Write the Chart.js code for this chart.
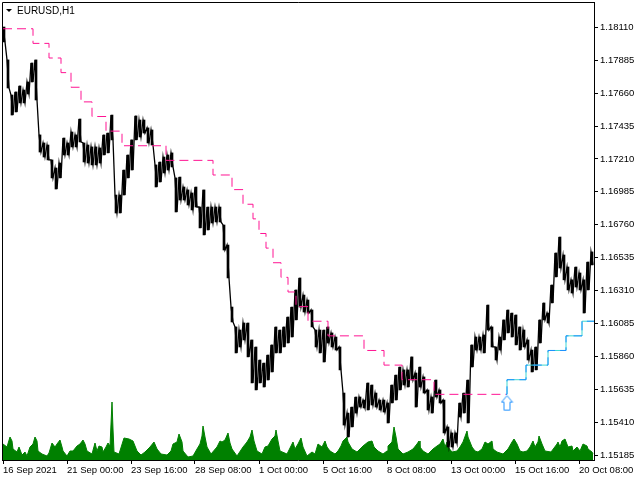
<!DOCTYPE html>
<html>
<head>
<meta charset="utf-8">
<title>EURUSD,H1</title>
<script src="https://cdn.jsdelivr.net/npm/chart.js@4.4.1/dist/chart.umd.min.js"></script>
<style>
  html, body { margin: 0; padding: 0; background: #fff; }
  #wrap { width: 640px; height: 480px; }
</style>
</head>
<body>
<div id="wrap"><canvas id="chart" width="640" height="480"></canvas></div>
<script>
// EURUSD H1 - one bar per pixel, bar 0 = 16 Sep 2021
const symbolTitle = 'EURUSD,H1';

const xTickBars = [0, 64, 128, 192, 256, 320, 384, 448, 512, 576];
const xTickLabels = ['16 Sep 2021', '21 Sep 00:00', '23 Sep 16:00', '28 Sep 08:00', '1 Oct 00:00',
  '5 Oct 16:00', '8 Oct 08:00', '13 Oct 00:00', '15 Oct 16:00', '20 Oct 08:00'];
const yTickValues = [1.18110, 1.17885, 1.17660, 1.17435, 1.17210, 1.16985, 1.16760,
  1.16535, 1.16310, 1.16085, 1.15860, 1.15635, 1.15410, 1.15185];

// high / low read every 4 bars
const sampleStep = 4;
const priceHigh = [
  1.18112, 1.17887, 1.17647, 1.17668, 1.17709, 1.17681, 1.17736, 1.17866, 1.17887, 1.17374,
  1.17319, 1.17305, 1.17203, 1.17148, 1.17182, 1.17353, 1.17319, 1.17394, 1.17374, 1.17483,
  1.17319, 1.17305, 1.17292, 1.17292, 1.17285, 1.17374, 1.17387, 1.17510, 1.16963, 1.16963,
  1.17134, 1.17237, 1.17340, 1.17504, 1.17476, 1.17476, 1.17422, 1.17408, 1.17169, 1.17189,
  1.17223, 1.17237, 1.17251, 1.17080, 1.17086, 1.17018, 1.16998, 1.16977, 1.17018, 1.16881,
  1.16998, 1.16881, 1.16881, 1.16881, 1.16881, 1.16758, 1.16621, 1.16197, 1.16061, 1.16040,
  1.16088, 1.16088, 1.15972, 1.15924, 1.15835, 1.15814, 1.15869, 1.15938, 1.16061, 1.16040,
  1.16061, 1.16129, 1.16197, 1.16314, 1.16396, 1.16279, 1.16245, 1.16177, 1.16040, 1.16040,
  1.16040, 1.16061, 1.16020, 1.15992, 1.15924, 1.15609, 1.15472, 1.15513, 1.15582, 1.15582,
  1.15561, 1.15678, 1.15664, 1.15609, 1.15561, 1.15561, 1.15541, 1.15664, 1.15732, 1.15787,
  1.15767, 1.15767, 1.15856, 1.15746, 1.15787, 1.15719, 1.15630, 1.15582, 1.15698, 1.15630,
  1.15561, 1.15377, 1.15336, 1.15336, 1.15541, 1.15609, 1.15698, 1.15938, 1.15992, 1.15992,
  1.16006, 1.16211, 1.16061, 1.15924, 1.15992, 1.16109, 1.16177, 1.16156, 1.16143, 1.16061,
  1.16040, 1.15972, 1.15903, 1.15924, 1.16109, 1.16225, 1.16156, 1.16348, 1.16567, 1.16676,
  1.16553, 1.16471, 1.16383, 1.16471, 1.16430, 1.16383, 1.16505, 1.16574
];
const priceLow = [
  1.18010, 1.17695, 1.17510, 1.17531, 1.17593, 1.17593, 1.17654, 1.17736, 1.17613, 1.17257,
  1.17223, 1.17203, 1.17080, 1.17004, 1.17080, 1.17237, 1.17237, 1.17292, 1.17292, 1.17326,
  1.17189, 1.17182, 1.17169, 1.17169, 1.17182, 1.17237, 1.17251, 1.17340, 1.16840, 1.16840,
  1.16963, 1.17080, 1.17134, 1.17340, 1.17360, 1.17387, 1.17319, 1.17305, 1.17018, 1.17052,
  1.17114, 1.17134, 1.17155, 1.16847, 1.16929, 1.16929, 1.16895, 1.16861, 1.16881, 1.16738,
  1.16690, 1.16724, 1.16772, 1.16779, 1.16779, 1.16587, 1.16396, 1.16095, 1.15883, 1.15924,
  1.15972, 1.15856, 1.15678, 1.15630, 1.15678, 1.15650, 1.15698, 1.15753, 1.15883, 1.15883,
  1.15924, 1.15951, 1.15992, 1.16109, 1.16197, 1.16163, 1.16156, 1.16061, 1.15924, 1.15883,
  1.15821, 1.15951, 1.15924, 1.15903, 1.15767, 1.15390, 1.15308, 1.15377, 1.15472, 1.15513,
  1.15507, 1.15493, 1.15527, 1.15513, 1.15493, 1.15479, 1.15404, 1.15541, 1.15561, 1.15630,
  1.15664, 1.15650, 1.15698, 1.15513, 1.15650, 1.15609, 1.15493, 1.15472, 1.15582, 1.15541,
  1.15336, 1.15240, 1.15240, 1.15267, 1.15445, 1.15472, 1.15404, 1.15787, 1.15903, 1.15903,
  1.15883, 1.16040, 1.15924, 1.15835, 1.15903, 1.15972, 1.16020, 1.15992, 1.15938, 1.15903,
  1.15924, 1.15835, 1.15753, 1.15767, 1.15951, 1.16109, 1.16088, 1.16225, 1.16403, 1.16464,
  1.16383, 1.16314, 1.16293, 1.16334, 1.16314, 1.16156, 1.16314, 1.16485
];

// tick volume (bar index / ticks)
const volumeBars = [
  0, 4, 7, 9, 10, 14, 16, 19, 22, 24, 27, 30, 32, 34, 35, 39, 44, 46, 49, 52,
  54, 57, 59, 60, 64, 67, 70, 74, 77, 80, 82, 84, 89, 92, 94, 96, 99, 100, 103, 105,
  107, 109, 110, 111, 116, 121, 126, 130, 134, 138, 142, 147, 151, 154, 158, 164, 168, 170, 174, 176,
  179, 180, 185, 190, 194, 197, 199, 200, 202, 204, 208, 214, 217, 219, 222, 225, 227, 229, 234, 240,
  244, 247, 249, 251, 254, 259, 262, 265, 269, 272, 273, 275, 277, 284, 290, 292, 295, 298, 300, 304,
  309, 312, 315, 319, 322, 324, 327, 332, 335, 338, 340, 344, 345, 349, 354, 357, 360, 365, 369, 371,
  375, 380, 384, 385, 389, 391, 393, 395, 400, 405, 410, 414, 416, 417, 420, 425, 430, 434, 437, 440,
  442, 444, 445, 449, 454, 457, 460, 464, 465, 469, 472, 475, 479, 482, 485, 489, 490, 494, 500, 505,
  509, 511, 514, 517, 520, 524, 527, 530, 532, 535, 536, 539, 542, 548, 554, 555, 557, 559, 562, 565,
  569, 570, 574, 577, 580, 584, 585, 589, 590
];
const volumeTicks = [
  1600, 1300, 2300, 1900, 1100, 800, 1300, 500, 800, 400, 1300, 1600, 2300, 1900, 900, 600, 400, 700, 1700, 1300,
  1600, 2000, 1300, 900, 400, 900, 900, 1400, 1600, 2000, 1600, 900, 600, 1700, 900, 1400, 1300, 800, 1300, 1700,
  1400, 5800, 3100, 800, 600, 2200, 2100, 1900, 900, 500, 800, 1300, 1800, 1100, 600, 500, 900, 1600, 1800, 2600,
  1800, 900, 300, 400, 1100, 1600, 2400, 3400, 2300, 1300, 600, 1300, 1900, 1800, 2000, 2700, 1700, 1100, 400, 1300,
  1800, 2300, 3000, 1900, 900, 600, 1300, 1400, 2100, 2400, 3000, 1900, 900, 600, 1800, 1100, 1600, 2200, 1300, 400,
  800, 600, 1600, 1300, 1900, 1300, 900, 600, 900, 1400, 1900, 2300, 1800, 1100, 800, 1100, 1400, 1800, 1900, 1300,
  900, 600, 900, 1400, 1800, 3300, 2300, 1100, 600, 800, 1100, 1600, 1900, 1300, 900, 600, 1100, 1400, 1600, 2100,
  1300, 1800, 1300, 800, 900, 1300, 1800, 2900, 2300, 1300, 900, 800, 1100, 1800, 1600, 1900, 1100, 800, 600, 1100,
  1800, 2100, 1600, 900, 800, 900, 1300, 1900, 1300, 1800, 2400, 1600, 900, 800, 1600, 1800, 1300, 1900, 2100, 1300,
  1400, 900, 1300, 900, 1600, 1400, 1100, 800, 600
];

// stepped stop line above price (sell side)
const sellStopBars = [0, 30, 46, 58, 68, 78, 89, 103, 119, 163, 210, 229, 240, 250, 256, 263, 270,
  278, 285, 293, 305, 325, 361, 381, 399, 431];
const sellStopLevels = [1.1810, 1.1800, 1.1790, 1.1780, 1.1770, 1.1760, 1.1750, 1.1740, 1.1730,
  1.1720, 1.1710, 1.1700, 1.1690, 1.1680, 1.1670, 1.1660, 1.1650, 1.1640, 1.1630, 1.1620,
  1.1610, 1.1600, 1.1590, 1.1580, 1.1570, 1.1560];
const sellStopEnd = 503;

// stepped stop line below price (buy side)
const buyStopBars = [503, 504, 523, 545, 563, 579];
const buyStopLevels = [1.1560, 1.1570, 1.1580, 1.1590, 1.1600, 1.1610];
const buyStopEnd = 591;

// buy arrow
const signalBars = [504];
const signalPrices = [1.1554];

const labelFont = { family: 'Liberation Sans', size: 9.5 };

function stepPoints(bars, levels, end) {
  const pts = bars.map((b, i) => ({ x: b, y: levels[i] }));
  pts.push({ x: end, y: levels[levels.length - 1] });
  return pts;
}

function makeArrow() {
  const c = document.createElement('canvas');
  c.width = 13;
  c.height = 17;
  const g = c.getContext('2d');
  g.beginPath();
  g.moveTo(6.5, 1);
  g.lineTo(12, 7.5);
  g.lineTo(9.5, 7.5);
  g.lineTo(9.5, 15.5);
  g.lineTo(3.5, 15.5);
  g.lineTo(3.5, 7.5);
  g.lineTo(1, 7.5);
  g.closePath();
  g.fillStyle = '#fff';
  g.fill();
  g.strokeStyle = '#1e90ff';
  g.lineWidth = 1;
  g.stroke();
  return c;
}

// zigzag between high and low, plus a thin range bar for each sample
const pricePoints = [];
priceHigh.forEach((h, i) => {
  pricePoints.push({ x: i * sampleStep, y: h });
  pricePoints.push({ x: i * sampleStep + 2, y: priceLow[i] });
});
const rangeBars = priceHigh.map((h, i) => ({ x: i * sampleStep + 1, y: [priceLow[i], h] }));
const volumePoints = volumeBars.map((b, i) => ({ x: b, y: volumeTicks[i] }));
const signalPoints = signalBars.map((b, i) => ({ x: b, y: signalPrices[i] }));
const sellStopPoints = stepPoints(sellStopBars, sellStopLevels, sellStopEnd);
const buyStopPoints = stepPoints(buyStopBars, buyStopLevels, buyStopEnd);

// frame + symbol caption in the top-left corner
const framePlugin = {
  id: 'frame',
  afterDraw(chart) {
    const { ctx, chartArea: a } = chart;
    ctx.save();
    ctx.strokeStyle = '#000';
    ctx.lineWidth = 1;
    ctx.beginPath();
    ctx.moveTo(a.left + 0.5, a.bottom);
    ctx.lineTo(a.left + 0.5, a.top + 0.5);
    ctx.lineTo(a.right, a.top + 0.5);
    ctx.stroke();

    ctx.fillStyle = '#000';
    ctx.beginPath();
    ctx.moveTo(a.left + 4, a.top + 7);
    ctx.lineTo(a.left + 10, a.top + 7);
    ctx.lineTo(a.left + 7, a.top + 10);
    ctx.closePath();
    ctx.fill();

    ctx.font = '10px "Liberation Sans"';
    ctx.textBaseline = 'alphabetic';
    ctx.fillText(symbolTitle, a.left + 15, a.top + 12);
    ctx.restore();
  }
};

new Chart(document.getElementById('chart'), {
  type: 'line',
  data: {
    datasets: [
      {
        label: 'Buy signal',
        data: signalPoints,
        yAxisID: 'y',
        showLine: false,
        pointStyle: makeArrow(),
        pointRadius: 6,
        order: 0
      },
      {
        label: 'Buy stop',
        data: buyStopPoints,
        yAxisID: 'y',
        borderColor: '#1e90ff',
        borderWidth: 1,
        borderDash: [9, 5],
        stepped: true,
        pointRadius: 0,
        order: 1
      },
      {
        label: 'Buy stop (2)',
        data: buyStopPoints,
        yAxisID: 'y',
        borderColor: '#3fd8d0',
        borderWidth: 1,
        stepped: true,
        pointRadius: 0,
        order: 2
      },
      {
        label: 'Sell stop',
        data: sellStopPoints,
        yAxisID: 'y',
        borderColor: '#ff1493',
        borderWidth: 1,
        borderDash: [9, 5],
        stepped: true,
        pointRadius: 0,
        order: 3
      },
      {
        label: 'EURUSD',
        data: pricePoints,
        yAxisID: 'y',
        borderColor: '#000',
        borderWidth: 1.3,
        pointRadius: 0,
        tension: 0,
        order: 4
      },
      {
        type: 'bar',
        label: 'EURUSD range',
        data: rangeBars,
        yAxisID: 'y',
        backgroundColor: '#000',
        borderWidth: 0,
        barThickness: 2,
        order: 5
      },
      {
        label: 'Volume',
        data: volumePoints,
        yAxisID: 'yVol',
        borderColor: '#008000',
        backgroundColor: '#008000',
        borderWidth: 1,
        fill: 'origin',
        pointRadius: 0,
        tension: 0,
        order: 6
      }
    ]
  },
  options: {
    responsive: false,
    animation: false,
    events: [],
    layout: { autoPadding: false, padding: { left: 2, top: 2, right: 0, bottom: 0 } },
    plugins: {
      legend: { display: false },
      tooltip: { enabled: false }
    },
    scales: {
      x: {
        type: 'linear',
        min: -1,
        max: 591,
        offset: false,
        afterBuildTicks: s => { s.ticks = xTickBars.map(v => ({ value: v })); },
        afterFit: s => { s.height = 20; s.paddingLeft = 0; s.paddingRight = 0; },
        grid: { drawOnChartArea: false, offset: false, tickLength: 4, color: '#000' },
        border: { color: '#000' },
        ticks: {
          autoSkip: false,
          maxRotation: 0,
          align: 'start',
          padding: 1,
          color: '#000',
          font: labelFont,
          callback: (v, i) => xTickLabels[i]
        }
      },
      y: {
        position: 'right',
        min: 1.15151,
        max: 1.18283,
        afterBuildTicks: s => { s.ticks = yTickValues.map(v => ({ value: v })); },
        afterFit: s => { s.width = 46; s.paddingTop = 0; s.paddingBottom = 0; },
        grid: { drawOnChartArea: false, tickLength: 4, color: '#000' },
        border: { color: '#000' },
        ticks: {
          padding: 2,
          color: '#000',
          font: labelFont,
          callback: v => v.toFixed(5)
        }
      },
      yVol: {
        display: false,
        min: 0,
        max: 45800
      }
    }
  },
  plugins: [framePlugin]
});
</script>
</body>
</html>
